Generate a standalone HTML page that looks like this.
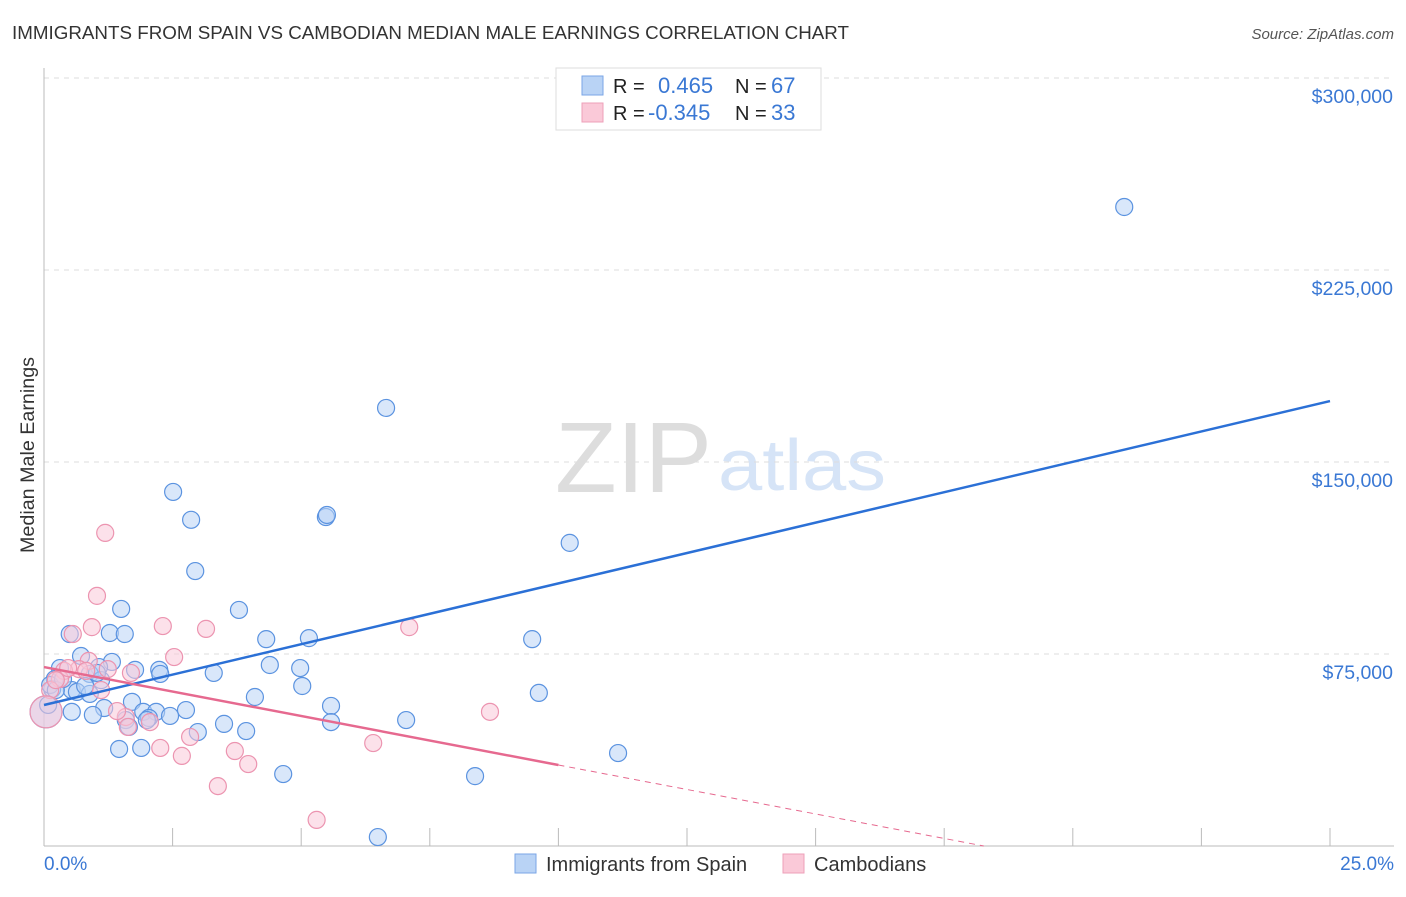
<!DOCTYPE html>
<html><head><meta charset="utf-8"><style>
body{margin:0;background:#fff;font-family:"Liberation Sans",sans-serif}
svg text{font-family:"Liberation Sans",sans-serif}
</style></head><body>
<svg width="1406" height="892">
<text x="12" y="39" font-size="18" fill="#333" textLength="837" lengthAdjust="spacingAndGlyphs">IMMIGRANTS FROM SPAIN VS CAMBODIAN MEDIAN MALE EARNINGS CORRELATION CHART</text>
<text x="1394" y="39" font-size="15" fill="#555" font-style="italic" text-anchor="end">Source: ZipAtlas.com</text>
<text x="555" y="492" font-size="100" fill="#ddd" font-family="Liberation Serif" textLength="157" lengthAdjust="spacingAndGlyphs">ZIP</text>
<text x="718" y="490" font-size="72" fill="#d6e4f7" textLength="168" lengthAdjust="spacingAndGlyphs">atlas</text>
<g id="grid"></g>
<g id="axes"></g>
<g id="pts"></g>
<g id="lines"></g>
<text x="34" y="455" font-size="19" fill="#333" text-anchor="middle" transform="rotate(-90 34 455)" textLength="196" lengthAdjust="spacingAndGlyphs">Median Male Earnings</text>
<text x="44" y="870" font-size="19" fill="#3a78d4">0.0%</text>
<text x="1394" y="870" font-size="19" fill="#3a78d4" text-anchor="end">25.0%</text>
<g>
<rect x="556" y="68" width="265" height="62" fill="#fff" stroke="#ddd"/>
<rect x="582" y="76" width="21" height="19" fill="#b9d3f5" stroke="#7aa6e6"/>
<rect x="582" y="103" width="21" height="19" fill="#fac9d8" stroke="#eea0b9"/>
<text x="613" y="93" font-size="20" fill="#222">R =</text><text x="658" y="93" font-size="22" fill="#3a78d4">0.465</text>
<text x="735" y="93" font-size="20" fill="#222">N =</text><text x="771" y="93" font-size="22" fill="#3a78d4">67</text>
<text x="613" y="120" font-size="20" fill="#222">R =</text><text x="648" y="120" font-size="22" fill="#3a78d4">-0.345</text>
<text x="735" y="120" font-size="20" fill="#222">N =</text><text x="771" y="120" font-size="22" fill="#3a78d4">33</text>
</g>
<g>
<rect x="515" y="854" width="21" height="19" fill="#b9d3f5" stroke="#7aa6e6"/>
<text x="546" y="871" font-size="20" fill="#333">Immigrants from Spain</text>
<rect x="783" y="854" width="21" height="19" fill="#fac9d8" stroke="#eea0b9"/>
<text x="814" y="871" font-size="20" fill="#333">Cambodians</text>
</g>
</svg>
<script>
const yTicks=[75000,150000,225000,300000];
const yTickLabels=["$75,000","$150,000","$225,000","$300,000"];
const blueX=[21.0,6.65,2.51,2.86,5.48,5.5,10.22,2.94,1.5,3.79,0.5,1.28,1.57,4.32,5.15,9.49,0.72,1.32,1.07,0.31,1.77,2.24,4.39,4.98,3.3,2.26,0.21,0.89,1.11,0.54,0.64,0.89,5.02,0.16,9.62,4.1,1.71,5.58,1.17,2.76,1.93,2.18,0.54,0.95,2.45,2.04,2.0,1.59,7.04,3.5,5.58,2.99,1.65,3.93,1.46,1.89,11.16,4.65,8.38,6.49,0.04,0.08,0.12,0.23,0.37,0.8,1.03];
const blueY=[249600,171100,138300,127400,128500,129300,118400,107400,92600,92200,82800,83200,82800,80800,81200,80800,74200,71900,69900,69500,68800,68800,70700,69500,67600,67200,65200,67200,64800,60900,60200,59400,62500,61300,59800,58200,56300,54700,53900,53100,52400,52400,52400,51200,50800,50000,49200,49200,49200,47700,48400,44500,46500,44900,37900,38300,36300,28100,27300,3500,52400,55100,62900,60900,65200,62500,67600];
const pinkX=[1.19,1.03,0.56,0.93,2.31,3.15,7.1,2.53,0.87,0.68,0.39,1.24,1.69,1.11,0.31,0.12,0.04,1.59,1.42,1.63,2.84,2.26,3.71,2.68,3.97,6.4,8.67,3.38,5.3,0.23,0.47,0.82,2.06];
const pinkY=[122300,97700,82800,85500,85900,84800,85500,73800,72300,69100,68400,69100,67600,60900,65200,60900,52400,50400,52700,46500,42600,38300,37100,35200,32000,40200,52400,23400,10200,64800,69500,68400,48400];
const blueFit=[[0,55080],[25,173800]];
const pinkFit=[[0,69900],[10,31640]];
const pinkFitDash=[[10,31640],[18.27,0]];
const X=v=>44+v*51.44, Y=v=>846-v/390.6;
const NS="http://www.w3.org/2000/svg";
function mk(t,a,p){const e=document.createElementNS(NS,t);for(const k in a)e.setAttribute(k,a[k]);p.appendChild(e);return e;}
const grid=document.getElementById('grid'),axes=document.getElementById('axes'),pts=document.getElementById('pts'),lines=document.getElementById('lines');
yTicks.forEach((v,i)=>{
 const l=mk('line',{x1:44,x2:1394,y1:Y(v),y2:Y(v),stroke:'#ddd','stroke-dasharray':'5,5'},grid);
 
 
 const t=mk('text',{x:1393,y:Y(v)+25,'font-size':19.5,fill:'#3a78d4','text-anchor':'end'},grid);
 t.textContent=yTickLabels[i];
 
 
});
const ya=mk('line',{x1:44,x2:44,y1:68,y2:846,stroke:'#bbb'},axes);


const xa=mk('line',{x1:44,x2:1394,y1:846,y2:846,stroke:'#bbb'},axes);


for(let i=1;i<=10;i++){const t=mk('line',{x1:X(i*2.5),x2:X(i*2.5),y1:828,y2:846,stroke:'#bbb'},axes);
 
 }
function series(xs,ys,fill,stroke,name){xs.forEach((x,i)=>{
 const c=mk('circle',{cx:X(x),cy:Y(ys[i]),r:(x<0.06?16:8.5),fill:fill,'fill-opacity':0.55,stroke:stroke,'stroke-width':1.2},pts);
 
 });}
series(blueX,blueY,'#b9d3f5','#5b93e0','spain-point');
series(pinkX,pinkY,'#fac9d8','#ec94b0','cambodian-point');
function ln(p,col,w,dash,name){const l=mk('line',{x1:X(p[0][0]),y1:Y(p[0][1]),x2:X(p[1][0]),y2:Y(p[1][1]),stroke:col,'stroke-width':w},lines);
 if(dash)l.setAttribute('stroke-dasharray',dash);
 
 }
ln(blueFit,'#2b70d6',2.5,null,'spain-trend-line');
ln(pinkFit,'#e6698f',2.5,null,'cambodian-trend-line');
ln(pinkFitDash,'#e6698f',1,'6,5','cambodian-trend-extension');
</script>
</body></html>
